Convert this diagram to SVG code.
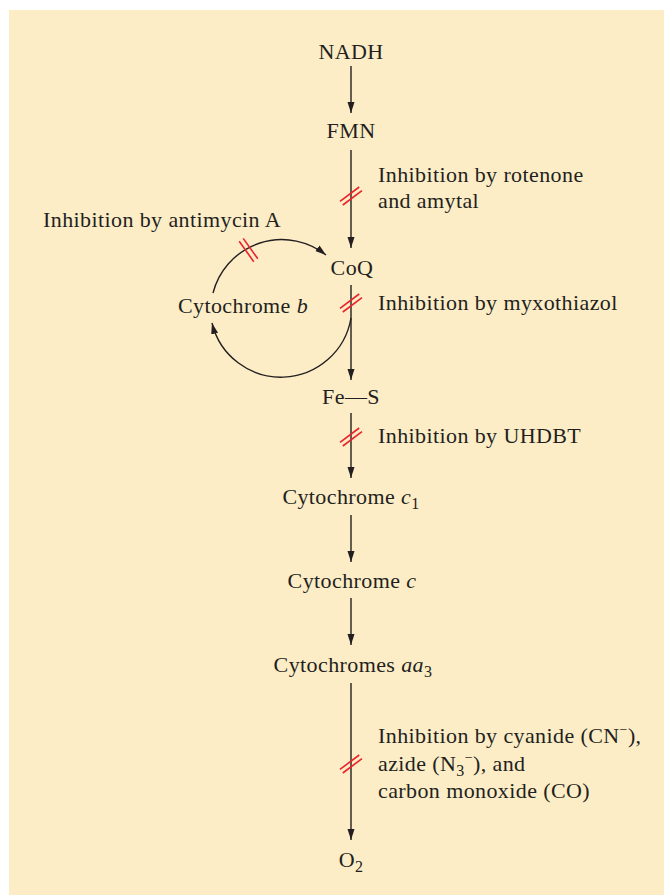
<svg xmlns="http://www.w3.org/2000/svg" width="664" height="895" viewBox="0 0 664 895">
<style>
text{font-family:"Liberation Serif","Times New Roman",serif;font-size:22px;fill:#231f20;letter-spacing:0.4px}
.node{text-anchor:middle}
.it{font-style:italic}
.conn{stroke:#231f20;stroke-width:1.4;fill:none}
.hash line{stroke:#e8232b;stroke-width:1.6}
</style>
<defs>
<marker id="ah" markerUnits="userSpaceOnUse" markerWidth="12" markerHeight="8" refX="11" refY="3.5" orient="auto">
<path d="M0,0 L11,3.5 L0,7 z" fill="#231f20"/>
</marker>
<g id="vhash" class="hash">
<line x1="-11" y1="5.4" x2="8.2" y2="-9"/>
<line x1="-8.2" y1="9" x2="11" y2="-5.4"/>
</g>
</defs>
<rect x="9" y="10" width="655" height="885" fill="#fcedc7"/>

<g id="connectors">
<line class="conn" x1="351" y1="66" x2="351" y2="113" marker-end="url(#ah)"/>
<line class="conn" x1="351" y1="150" x2="351" y2="248" marker-end="url(#ah)"/>
<line class="conn" x1="351" y1="285" x2="351" y2="380" marker-end="url(#ah)"/>
<line class="conn" x1="351" y1="413" x2="351" y2="478" marker-end="url(#ah)"/>
<line class="conn" x1="351" y1="515" x2="351" y2="562" marker-end="url(#ah)"/>
<line class="conn" x1="351" y1="598" x2="351" y2="645" marker-end="url(#ah)"/>
<line class="conn" x1="351" y1="683" x2="351" y2="840" marker-end="url(#ah)"/>
<path class="conn" d="M213,293 A71,71 0 0 1 326,255" marker-end="url(#ah)"/>
<path class="conn" d="M351,318 A71,71 0 0 1 212,323" marker-end="url(#ah)"/>
</g>

<g id="inhibition-marks">
<use href="#vhash" x="351" y="196"/>
<use href="#vhash" x="351" y="303"/>
<use href="#vhash" x="351" y="437"/>
<use href="#vhash" x="351" y="764"/>
<g class="hash">
<line x1="239.2" y1="241.3" x2="253.8" y2="261.7"/>
<line x1="243.2" y1="238.4" x2="257.8" y2="258.8"/>
</g>
</g>

<g id="nadh"><text class="node" x="351" y="59">NADH</text></g>
<g id="fmn"><text class="node" x="351" y="138">FMN</text></g>
<g id="coq"><text class="node" x="352" y="275">CoQ</text></g>
<g id="cytb"><text class="node" x="243" y="313">Cytochrome <tspan class="it">b</tspan></text></g>
<g id="fes"><text class="node" x="351" y="404">Fe—S</text></g>
<g id="cytc1"><text class="node" x="351" y="504">Cytochrome <tspan class="it">c</tspan><tspan dy="5" font-size="16">1</tspan></text></g>
<g id="cytc"><text class="node" x="352" y="588">Cytochrome <tspan class="it">c</tspan></text></g>
<g id="cytaa3"><text class="node" x="353" y="672">Cytochromes <tspan class="it">aa</tspan><tspan dy="5" font-size="16">3</tspan></text></g>
<g id="o2"><text class="node" x="351" y="867">O<tspan dy="5" font-size="16">2</tspan></text></g>

<g id="labels">
<text x="43" y="227">Inhibition by antimycin A</text>
<text x="378" y="182">Inhibition by rotenone</text>
<text x="378" y="208">and amytal</text>
<text x="378" y="310">Inhibition by myxothiazol</text>
<text x="378" y="443">Inhibition by UHDBT</text>
<text x="378" y="743">Inhibition by cyanide (CN<tspan dy="-9" font-size="14">−</tspan><tspan dy="9">),</tspan></text>
<text x="378" y="771">azide (N<tspan dy="5" font-size="16">3</tspan><tspan dy="-14" font-size="14">−</tspan><tspan dy="9">), and</tspan></text>
<text x="378" y="798">carbon monoxide (CO)</text>
</g>
</svg>
